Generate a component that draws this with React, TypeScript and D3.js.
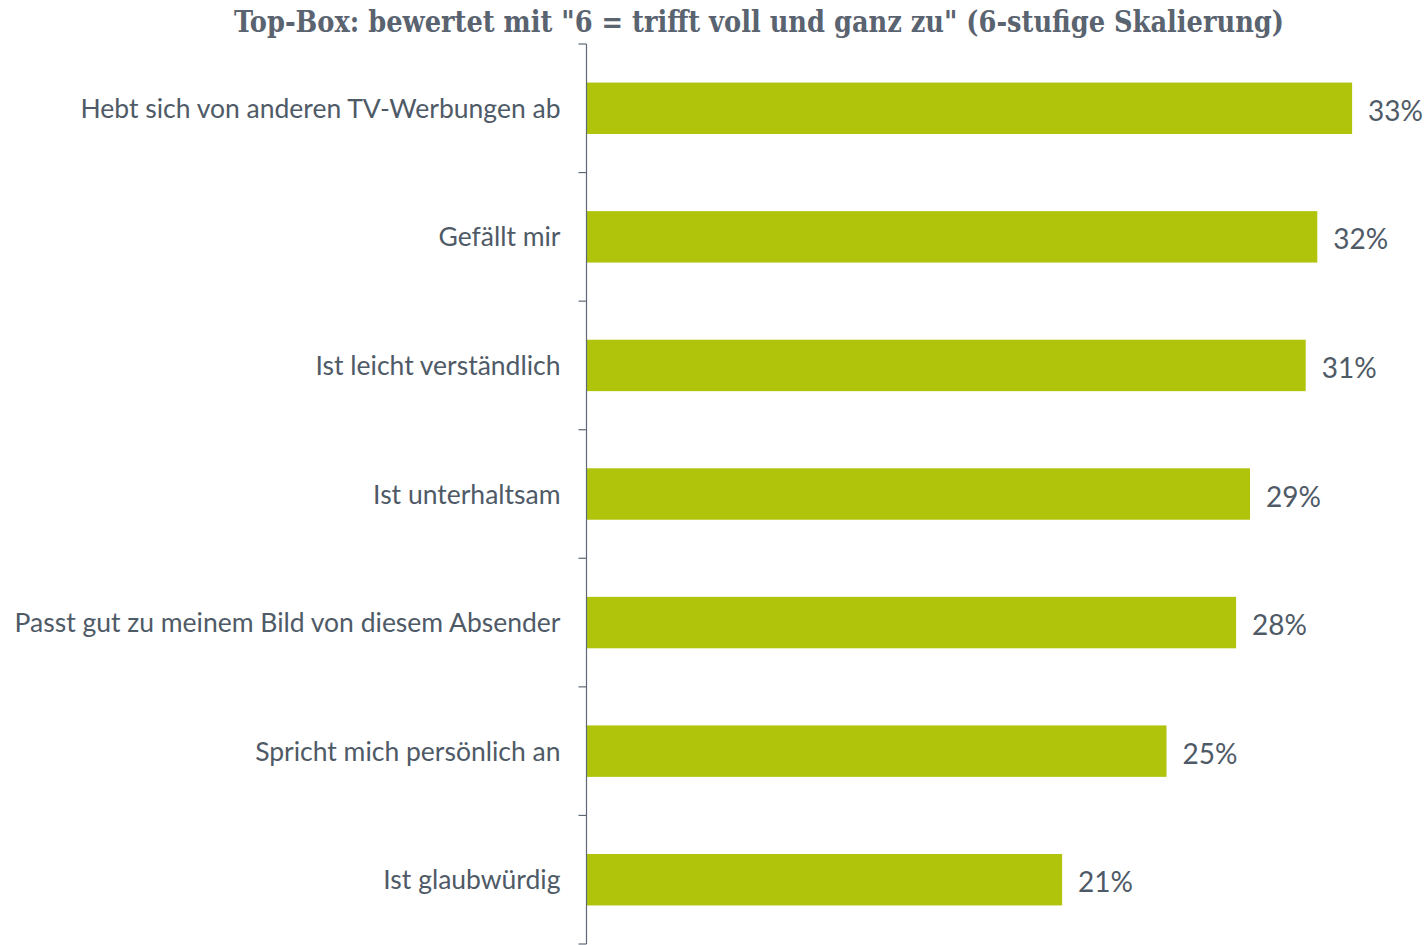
import React from "react";
import * as d3 from "d3";

const categories = [
  "Hebt sich von anderen TV-Werbungen ab",
  "Gefällt mir",
  "Ist leicht verständlich",
  "Ist unterhaltsam",
  "Passt gut zu meinem Bild von diesem Absender",
  "Spricht mich persönlich an",
  "Ist glaubwürdig",
];
const values = [33.0, 31.5, 31.0, 28.6, 28.0, 25.0, 20.5];
const title = 'Top-Box: bewertet mit "6 = trifft voll und ganz zu" (6-stufige Skalierung)';

const W = 1428;
const H = 945;
const axisX = 586.5;
const top = 44;
const bottom = 944;
const barColor = "#afc40a";
const textColor = "#4f5a67";
const axisColor = "#5f6875";

export default function App() {
  const x = d3.scaleLinear().domain([0, 35]).range([axisX, axisX + 35 * 23.2]);
  const y = d3.scaleBand<string>().domain(categories).range([top, bottom]).paddingInner(0.6).paddingOuter(0.3);
  const tickYs = d3.range(categories.length + 1).map((i) => top + i * ((bottom - top) / categories.length));
  return (
    <svg width={W} height={H} style={{ position: "absolute", left: 0, top: 0 }}>
      <text
        x={234}
        y={32}
        fontFamily="'DejaVu Serif Condensed', 'DejaVu Serif', serif"
        fontWeight="bold"
        fontSize={30}
        fill="#5a6370"
        textLength={1050}
        lengthAdjust="spacingAndGlyphs"
      >
        {title}
      </text>
      {categories.map((c, i) => (
        <g key={c}>
          <rect x={x(0)} y={y(c)!} width={x(values[i]) - x(0)} height={y.bandwidth()} fill={barColor} />
          <text
            x={x(values[i]) + 16}
            y={y(c)! + y.bandwidth() / 2}
            dy="0.45em"
            fontFamily="Lato, 'Open Sans', sans-serif"
            fontSize={28}
            fill={textColor}
          >
            {Math.round(values[i])}%
          </text>
          <text
            x={axisX - 26}
            y={y(c)! + y.bandwidth() / 2}
            dy="0.36em"
            textAnchor="end"
            fontFamily="Lato, 'Open Sans', sans-serif"
            fontSize={26.5}
            fill={textColor}
          >
            {c}
          </text>
        </g>
      ))}
      <line x1={axisX} x2={axisX} y1={top} y2={bottom} stroke={axisColor} strokeWidth={1.2} />
      {tickYs.map((t, i) => (
        <line key={i} x1={axisX - 8} x2={axisX} y1={t} y2={t} stroke={axisColor} strokeWidth={1.2} />
      ))}
    </svg>
  );
}
